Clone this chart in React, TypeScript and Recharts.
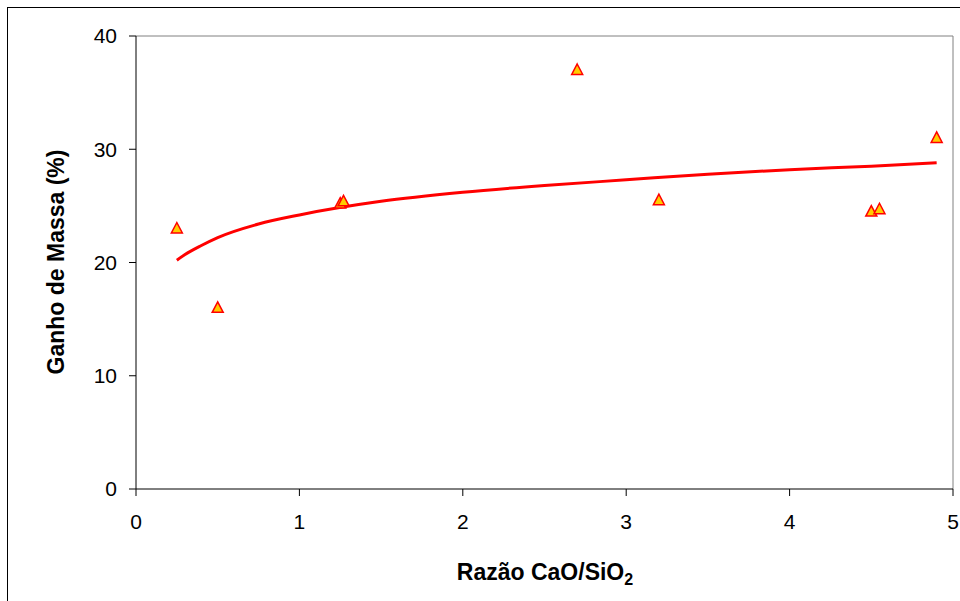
import { ComposedChart, Scatter, Line, XAxis, YAxis, ReferenceLine } from 'recharts'

// measured points (Razão CaO/SiO2 vs ganho de massa %)
const razao = [0.25, 0.5, 1.25, 1.27, 2.7, 3.2, 4.5, 4.55, 4.9]
const ganho = [23, 16, 25.2, 25.4, 37, 25.5, 24.5, 24.7, 31]

// logarithmic trendline
const trendX = [0.25, 0.3, 0.4, 0.5, 0.75, 1, 1.5, 2, 2.5, 3, 3.5, 4, 4.5, 4.9]
const trendY = [20.2, 20.7, 21.5, 22.2, 23.4, 24.2, 25.4, 26.2, 26.8, 27.3, 27.8, 28.2, 28.5, 28.8]

const xTicks = [0, 1, 2, 3, 4, 5]
const yTicks = [0, 10, 20, 30, 40]

const points = razao.map((x, i) => ({ x, y: ganho[i] }))
const trend = trendX.map((x, i) => ({ x, y: trendY[i] }))

const font = '"Liberation Sans", Arial, sans-serif'
const tickStyle = { fill: '#000', fontSize: 21, fontFamily: font }

function Triangle(props: any) {
  const { cx, cy } = props
  if (cx == null || cy == null) return null
  const pts = `${cx},${cy - 6} ${cx + 5.5},${cy + 4.5} ${cx - 5.5},${cy + 4.5}`
  return <polygon points={pts} fill="#FFCC00" stroke="#FF0000" strokeWidth={1.5} strokeLinejoin="miter" />
}

export default function App() {
  return (
    <div style={{ position: 'absolute', left: 0, top: 0, width: 960, height: 601, overflow: 'hidden', background: '#fff' }}>
      <div
        style={{
          position: 'absolute', left: 7, top: 7, width: 990, height: 640,
          border: '1px solid #000', boxSizing: 'border-box',
        }}
      />
      <div style={{ position: 'absolute', left: 0, top: 0 }}>
        <ComposedChart width={960} height={601} margin={{ top: 36, right: 7, bottom: 82, left: 76 }}>
          <XAxis
            type="number"
            dataKey="x"
            domain={[0, 5]}
            ticks={xTicks}
            height={30}
            tick={tickStyle}
            tickSize={7}
            tickMargin={18}
            axisLine={{ stroke: '#000' }}
            tickLine={{ stroke: '#000' }}
            allowDataOverflow
          />
          <YAxis
            type="number"
            dataKey="y"
            domain={[0, 40]}
            ticks={yTicks}
            width={60}
            tick={tickStyle}
            tickSize={7}
            tickMargin={12}
            axisLine={{ stroke: '#000' }}
            tickLine={{ stroke: '#000' }}
            allowDataOverflow
          />
          <ReferenceLine y={40} stroke="#808080" />
          <ReferenceLine x={5} stroke="#808080" />
          <Line
            data={trend}
            dataKey="y"
            type="monotone"
            stroke="#FF0000"
            strokeWidth={3}
            dot={false}
            activeDot={false}
            isAnimationActive={false}
          />
          <Scatter data={points} dataKey="y" shape={<Triangle />} isAnimationActive={false} />
        </ComposedChart>
      </div>
      <div
        style={{
          position: 'absolute', left: 56, top: 262, transform: 'translate(-50%, -50%) rotate(-90deg)',
          whiteSpace: 'nowrap', fontFamily: font, fontWeight: 'bold', fontSize: 23, color: '#000',
        }}
      >
        Ganho de Massa (%)
      </div>
      <div
        style={{
          position: 'absolute', left: 545, top: 574, transform: 'translate(-50%, -50%)',
          whiteSpace: 'nowrap', fontFamily: font, fontWeight: 'bold', fontSize: 23, color: '#000',
        }}
      >
        Razão CaO/SiO<sub style={{ fontSize: 16 }}>2</sub>
      </div>
    </div>
  )
}
